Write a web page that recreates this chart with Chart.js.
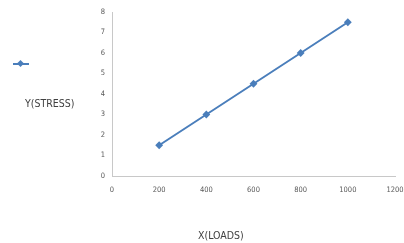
<!DOCTYPE html>
<html lang="en">
<head>
    <meta charset="UTF-8">
    <title>Stress vs Loads</title>
    <script src="https://cdn.jsdelivr.net/npm/chart.js"></script>
    <style>
        * {
            padding: 0;
            margin: 0;
        }
        body {
            background-color: #ffffff;
            width: 404px;
            height: 243px;
            overflow: hidden;
            font-family: 'Liberation Sans Narrow', 'DejaVu Sans Condensed', sans-serif;
        }
        .wrap {
            position: relative;
            width: 404px;
            height: 243px;
        }
        #myChart {
            position: absolute;
            left: 0;
            top: 0;
        }
        .legend-mark {
            position: absolute;
            left: 13px;
            top: 63px;
            width: 16px;
            height: 2px;
            background: #4a7ebb;
        }
        .legend-mark span {
            position: absolute;
            left: 5px;
            top: -2px;
            width: 5px;
            height: 5px;
            background: #4a7ebb;
            transform: rotate(45deg);
        }
        .y-title {
            position: absolute;
            left: 25px;
            top: 97px;
            font-size: 10.5px;
            color: #404040;
        }
        .x-title {
            position: absolute;
            left: 198px;
            top: 229px;
            font-size: 10.5px;
            color: #404040;
        }
    </style>
</head>
<body>
<div class="wrap">
    <canvas id="myChart" width="404" height="243"></canvas>
    <div class="legend-mark"><span></span></div>
    <div class="y-title">Y(STRESS)</div>
    <div class="x-title">X(LOADS)</div>
</div>
<script>
    const loads = [200, 400, 600, 800, 1000];
    const stress = [1.5, 3, 4.5, 6, 7.5];
    const xTicks = [0, 200, 400, 600, 800, 1000, 1200];
    const yTicks = [0, 1, 2, 3, 4, 5, 6, 7, 8];

    const tickFont = { family: "'Liberation Sans Narrow', 'DejaVu Sans Condensed', sans-serif", size: 7.5 };

    const ctx = document.getElementById('myChart').getContext('2d');
    const chart = new Chart(ctx, {
        type: 'scatter',
        data: {
            datasets: [{
                label: 'Y(STRESS)',
                data: loads.map((x, i) => ({ x: x, y: stress[i] })),
                showLine: true,
                borderColor: '#4a7ebb',
                backgroundColor: '#4a7ebb',
                borderWidth: 2,
                pointStyle: 'rectRot',
                pointRadius: 2.5,
                pointHoverRadius: 2.5
            }]
        },
        options: {
            responsive: false,
            animation: false,
            layout: { padding: { top: 12, right: 0, left: 0, bottom: 0 } },
            plugins: {
                legend: { display: false },
                tooltip: { enabled: false }
            },
            scales: {
                x: {
                    type: 'linear',
                    min: 0,
                    max: 1200,
                    afterBuildTicks: function(axis) {
                        axis.ticks = xTicks.map(v => ({ value: v }));
                    },
                    afterFit: function(axis) {
                        axis.height = 67;
                        axis.paddingRight = 9;
                    },
                    grid: { display: false, drawTicks: false },
                    border: { display: true, color: '#c8c8c8', width: 1 },
                    ticks: {
                        font: tickFont,
                        color: '#595959',
                        padding: 10,
                        maxRotation: 0,
                        callback: function(value) { return String(value); }
                    }
                },
                y: {
                    min: 0,
                    max: 8,
                    afterBuildTicks: function(axis) {
                        axis.ticks = yTicks.map(v => ({ value: v }));
                    },
                    afterFit: function(axis) {
                        axis.width = 112;
                    },
                    grid: { display: false, drawTicks: false },
                    border: { display: true, color: '#c8c8c8', width: 1 },
                    ticks: {
                        font: tickFont,
                        color: '#595959',
                        padding: 7,
                        callback: function(value) { return String(value); }
                    }
                }
            }
        }
    });
</script>
</body>
</html>
